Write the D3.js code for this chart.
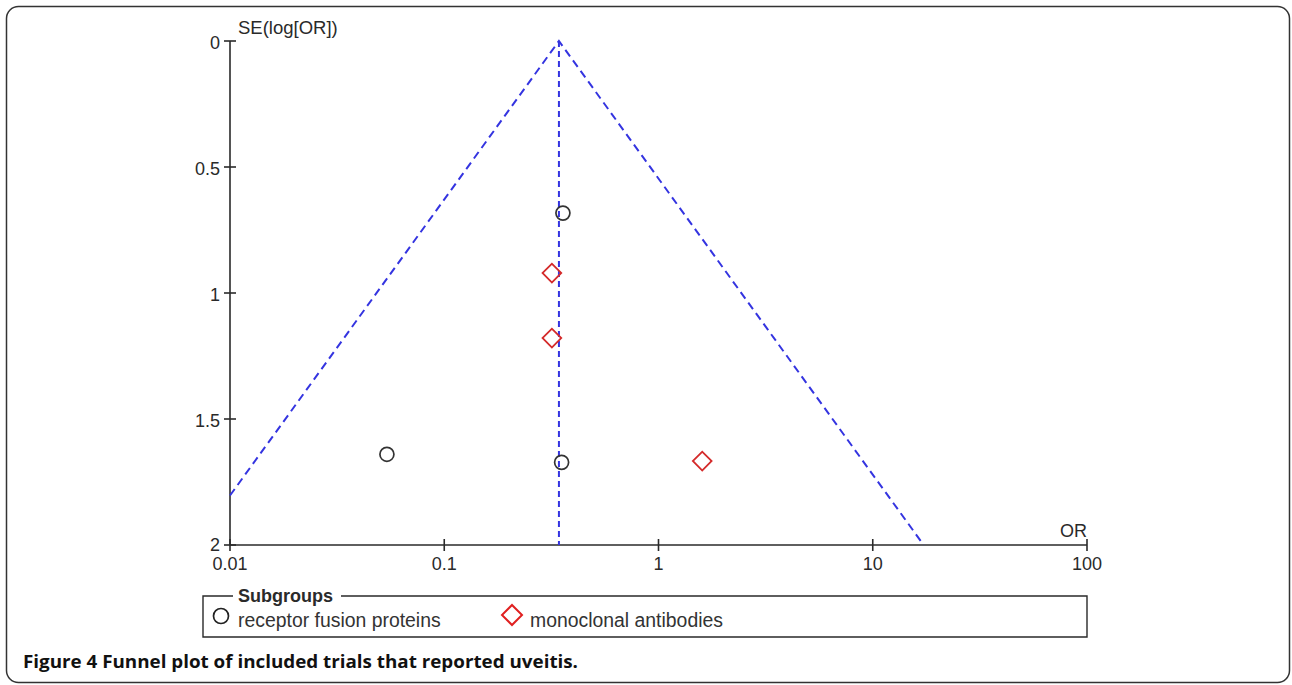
<!DOCTYPE html>
<html>
<head>
<meta charset="utf-8">
<script src="https://cdn.jsdelivr.net/npm/d3@7"></script>
<style>
  body { margin: 0; background: #fff; }
  svg { display: block; }
</style>
</head>
<body>
<svg id="chart" width="1292" height="685"></svg>
<script>
// pooled estimate
const pooledOR = 0.343;

// trials: odds ratio and standard error of log(OR)
const groupNames = ["receptor fusion proteins", "monoclonal antibodies"];
const fusionOR = [0.358, 0.054, 0.353];
const fusionSE = [0.683, 1.64, 1.672];
const mabOR = [0.318, 0.318, 1.60];
const mabSE = [0.921, 1.179, 1.667];

const xTicks = [0.01, 0.1, 1, 10, 100];
const yTicks = [0, 0.5, 1, 1.5, 2];

const svg = d3.select("#chart");
const font = "'Liberation Sans', Arial, sans-serif";
const ink = "#2a2a2a";
const blue = "#3434e0";

const x = d3.scaleLog().domain([0.01, 100]).range([230, 1087]);
const y = d3.scaleLinear().domain([0, 2]).range([41, 545]);

// outer frame
svg.append("rect")
  .attr("x", 6.5).attr("y", 6.5)
  .attr("width", 1283).attr("height", 676)
  .attr("rx", 12)
  .attr("fill", "none")
  .attr("stroke", "#333")
  .attr("stroke-width", 1.5);

const plot = svg.append("g");

// y axis
plot.append("line")
  .attr("x1", x(0.01)).attr("x2", x(0.01))
  .attr("y1", y(0)).attr("y2", y(2))
  .attr("stroke", ink).attr("stroke-width", 1.6);

plot.selectAll(".ytick")
  .data(yTicks)
  .join("line")
  .attr("class", "ytick")
  .attr("x1", x(0.01) - 6).attr("x2", x(0.01) + 6)
  .attr("y1", d => y(d)).attr("y2", d => y(d))
  .attr("stroke", ink).attr("stroke-width", 1.6);

plot.selectAll(".ylab")
  .data(yTicks)
  .join("text")
  .attr("class", "ylab")
  .attr("x", x(0.01) - 10)
  .attr("y", d => y(d) + (d === 2 ? 6 : 8))
  .attr("text-anchor", "end")
  .style("font-family", font)
  .style("font-size", "18px")
  .attr("fill", ink)
  .text(d => d3.format("")(d));

plot.append("text")
  .attr("x", x(0.01) + 8).attr("y", 34)
  .style("font-family", font)
  .style("font-size", "18.5px")
  .attr("fill", ink)
  .text("SE(log[OR])");

// x axis
plot.append("line")
  .attr("x1", x(0.01)).attr("x2", x(100))
  .attr("y1", y(2)).attr("y2", y(2))
  .attr("stroke", ink).attr("stroke-width", 1.6);

plot.selectAll(".xtick")
  .data(xTicks)
  .join("line")
  .attr("class", "xtick")
  .attr("x1", d => x(d)).attr("x2", d => x(d))
  .attr("y1", y(2) - 6).attr("y2", y(2) + 6)
  .attr("stroke", ink).attr("stroke-width", 1.6);

plot.selectAll(".xlab")
  .data(xTicks)
  .join("text")
  .attr("class", "xlab")
  .attr("x", d => x(d))
  .attr("y", y(2) + 25)
  .attr("text-anchor", "middle")
  .style("font-family", font)
  .style("font-size", "18px")
  .attr("fill", ink)
  .text(d => d3.format("")(d));

plot.append("text")
  .attr("x", x(100)).attr("y", y(2) - 8)
  .attr("text-anchor", "end")
  .style("font-family", font)
  .style("font-size", "18px")
  .attr("fill", ink)
  .text("OR");

// funnel: 95% limits around pooled estimate, clipped to the axes
const seAt = or => Math.abs(Math.log(or) - Math.log(pooledOR)) / 1.96;
const orAt = (se, sign) => Math.exp(Math.log(pooledOR) + sign * 1.96 * se);
const leftEnd = seAt(0.01) < 2 ? [0.01, seAt(0.01)] : [orAt(2, -1), 2];
const rightEnd = seAt(100) < 2 ? [100, seAt(100)] : [orAt(2, 1), 2];
const funnel = [leftEnd, [pooledOR, 0], rightEnd];

plot.append("path")
  .attr("d", d3.line().x(d => x(d[0])).y(d => y(d[1]))(funnel))
  .attr("fill", "none")
  .attr("stroke", blue)
  .attr("stroke-width", 2)
  .attr("stroke-dasharray", "8,5");

plot.append("line")
  .attr("x1", x(pooledOR)).attr("x2", x(pooledOR))
  .attr("y1", y(0)).attr("y2", y(2))
  .attr("stroke", blue)
  .attr("stroke-width", 2)
  .attr("stroke-dasharray", "6,4");

// points
const fusion = fusionOR.map((or, i) => ({ or, se: fusionSE[i] }));
const mab = mabOR.map((or, i) => ({ or, se: mabSE[i] }));

const diamond = d3.symbol().type(d3.symbolSquare).size(175);

plot.selectAll(".fusion")
  .data(fusion)
  .join("circle")
  .attr("class", "fusion")
  .attr("cx", d => x(d.or))
  .attr("cy", d => y(d.se))
  .attr("r", 7)
  .attr("fill", "none")
  .attr("stroke", "#333")
  .attr("stroke-width", 1.7);

plot.selectAll(".mab")
  .data(mab)
  .join("path")
  .attr("class", "mab")
  .attr("d", diamond)
  .attr("transform", d => `translate(${x(d.or)},${y(d.se)}) rotate(45)`)
  .attr("fill", "none")
  .attr("stroke", "#d42a2a")
  .attr("stroke-width", 1.8);

// legend
const legend = svg.append("g");
const lx0 = 203, lx1 = 1087, ly0 = 596, ly1 = 637;
legend.append("path")
  .attr("d", `M233,${ly0} H${lx0} V${ly1} H${lx1} V${ly0} H341`)
  .attr("fill", "none")
  .attr("stroke", ink)
  .attr("stroke-width", 1.4);

legend.append("text")
  .attr("x", 238).attr("y", 602)
  .style("font-family", font)
  .style("font-size", "18px")
  .style("font-weight", "bold")
  .attr("fill", ink)
  .text("Subgroups");

legend.append("circle")
  .attr("cx", 221).attr("cy", 616).attr("r", 7.5)
  .attr("fill", "none").attr("stroke", "#222").attr("stroke-width", 1.7);

legend.append("text")
  .attr("x", 238).attr("y", 627)
  .style("font-family", font)
  .style("font-size", "19.4px")
  .attr("fill", "#333")
  .text(groupNames[0]);

legend.append("path")
  .attr("d", d3.symbol().type(d3.symbolSquare).size(200))
  .attr("transform", "translate(512,615) rotate(45)")
  .attr("fill", "none").attr("stroke", "#e02020").attr("stroke-width", 2);

legend.append("text")
  .attr("x", 530).attr("y", 627)
  .style("font-family", font)
  .style("font-size", "19.4px")
  .attr("fill", "#333")
  .text(groupNames[1]);

// caption
svg.append("text")
  .attr("x", 23).attr("y", 668)
  .attr("textLength", 555)
  .attr("lengthAdjust", "spacingAndGlyphs")
  .style("font-family", "'Open Sans', sans-serif")
  .style("font-size", "17.5px")
  .style("font-weight", "bold")
  .attr("fill", "#111")
  .text("Figure 4 Funnel plot of included trials that reported uveitis.");
</script>
</body>
</html>
